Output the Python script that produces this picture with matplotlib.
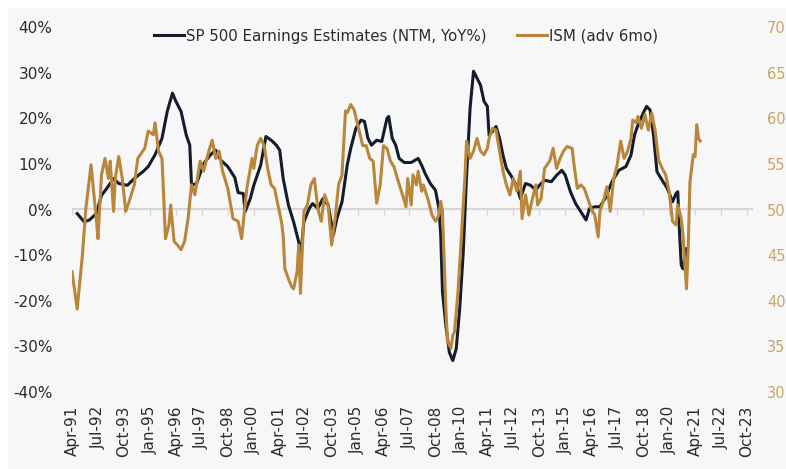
import matplotlib
matplotlib.use("Agg")
import matplotlib.pyplot as plt
import pandas as pd
from matplotlib.patches import Rectangle

# SP 500 NTM earnings estimates, YoY %
sp_dates = [
    "1991-07", "1991-11", "1992-02", "1992-06", "1992-09", "1992-12", "1993-04", "1993-07",
    "1993-12", "1994-04", "1994-09", "1994-12", "1995-04", "1995-08", "1995-11", "1996-02",
    "1996-04", "1996-07", "1996-10", "1996-12", "1997-01", "1997-04", "1997-08", "1997-12",
    "1998-03", "1998-06", "1998-10", "1999-02", "1999-04", "1999-07", "1999-08", "1999-11",
    "2000-01", "2000-05", "2000-08", "2000-11", "2001-02", "2001-04", "2001-06", "2001-09",
    "2001-12", "2002-03", "2002-04", "2002-06", "2002-09", "2002-11", "2003-02", "2003-05",
    "2003-08", "2003-11", "2004-01", "2004-04", "2004-07", "2004-09", "2004-12", "2005-03",
    "2005-05", "2005-07", "2005-09", "2005-12", "2006-03", "2006-06", "2006-07", "2006-09",
    "2006-11", "2007-01", "2007-04", "2007-08", "2007-12", "2008-02", "2008-04", "2008-07",
    "2008-10", "2008-12", "2009-01", "2009-02", "2009-04", "2009-06", "2009-08", "2009-10",
    "2009-12", "2010-02", "2010-04", "2010-06", "2010-08", "2010-10", "2010-12", "2011-02",
    "2011-04", "2011-05", "2011-07", "2011-09", "2011-11", "2012-01", "2012-03", "2012-06",
    "2012-09", "2012-11", "2013-02", "2013-05", "2013-08", "2013-10", "2014-01", "2014-05",
    "2014-08", "2014-11", "2015-01", "2015-04", "2015-07", "2015-10", "2016-01", "2016-03",
    "2016-06", "2016-09", "2016-12", "2017-04", "2017-08", "2017-12", "2018-03", "2018-05",
    "2018-07", "2018-10", "2018-12", "2019-02", "2019-04", "2019-06", "2019-09", "2019-12",
    "2020-03", "2020-05", "2020-06", "2020-07", "2020-08", "2020-09", "2020-11",
]
sp_vals = [
    -0.9, -2.7, -2.3, -0.9, 3.1, 4.6, 6.8, 5.7,
    5.3, 6.8, 8.3, 9.4, 12.0, 15.6, 21.5, 25.5,
    23.7, 21.5, 16.3, 14.1, 5.3, 5.7, 10.0, 12.0,
    13.0, 10.8, 9.4, 7.0, 3.7, 3.5, -0.5, 2.4,
    5.3, 9.7, 16.0, 15.2, 14.1, 13.0, 6.8, 1.0,
    -2.7, -7.1, -10.8, -2.7, 0.2, 1.3, 0.2, 2.4,
    1.0, -5.6, -2.0, 1.7, 9.7, 13.4, 17.8, 19.6,
    19.3, 15.6, 14.1, 15.2, 14.9, 20.0, 20.4, 15.6,
    14.1, 11.2, 10.3, 10.3, 11.2, 9.7, 7.9, 5.7,
    4.2, 0.2, -5.6, -18.1, -25.4, -31.3, -33.1, -30.5,
    -21.7, -9.3, 7.5, 22.2, 30.3, 28.8, 27.3, 23.7,
    22.6, 16.3, 17.1, 18.2, 15.6, 11.9, 9.0, 7.2,
    5.0, 2.4, 5.7, 5.3, 4.2, 5.3, 6.4, 6.1,
    7.5, 8.6, 7.5, 3.9, 1.3, -0.5, -2.3, 0.2,
    0.6, 0.6, 2.4, 6.1, 8.6, 9.4, 11.9, 16.3,
    18.5, 21.1, 22.6, 21.8, 16.3, 8.3, 6.4, 4.6,
    1.7, 3.5, 3.9, -4.9, -12.2, -13.0, -8.6,
]

# ISM manufacturing, advanced 6 months
ism_dates = [
    "1991-04", "1991-07", "1991-10", "1991-12", "1992-03", "1992-06", "1992-07", "1992-09",
    "1992-11", "1993-01", "1993-02", "1993-04", "1993-05", "1993-07", "1993-09", "1993-11",
    "1994-01", "1994-04", "1994-06", "1994-10", "1994-12", "1995-03", "1995-04", "1995-06",
    "1995-08", "1995-10", "1995-12", "1996-01", "1996-03", "1996-05", "1996-07", "1996-09",
    "1996-11", "1997-01", "1997-03", "1997-06", "1997-08", "1997-11", "1998-01", "1998-03",
    "1998-05", "1998-07", "1998-10", "1999-01", "1999-04", "1999-06", "1999-09", "1999-10",
    "1999-12", "2000-01", "2000-03", "2000-05", "2000-07", "2000-09", "2000-11", "2001-01",
    "2001-03", "2001-05", "2001-06", "2001-07", "2001-09", "2001-11", "2001-12", "2002-02",
    "2002-03", "2002-04", "2002-06", "2002-08", "2002-10", "2002-12", "2003-02", "2003-04",
    "2003-06", "2003-08", "2003-10", "2003-12", "2004-02", "2004-04", "2004-06", "2004-07",
    "2004-09", "2004-11", "2005-01", "2005-04", "2005-06", "2005-08", "2005-10", "2005-12",
    "2006-02", "2006-04", "2006-06", "2006-08", "2006-10", "2006-12", "2007-03", "2007-05",
    "2007-06", "2007-08", "2007-09", "2007-11", "2007-12", "2008-02", "2008-03", "2008-06",
    "2008-08", "2008-10", "2008-12", "2009-01", "2009-02", "2009-03", "2009-04", "2009-05",
    "2009-07", "2009-08", "2009-09", "2009-11", "2010-01", "2010-03", "2010-04", "2010-06",
    "2010-08", "2010-10", "2010-12", "2011-02", "2011-04", "2011-05", "2011-07", "2011-09",
    "2011-11", "2012-01", "2012-03", "2012-05", "2012-07", "2012-09", "2012-11", "2012-12",
    "2013-02", "2013-04", "2013-06", "2013-08", "2013-09", "2013-11", "2014-01", "2014-04",
    "2014-06", "2014-08", "2014-10", "2014-12", "2015-02", "2015-05", "2015-06", "2015-08",
    "2015-10", "2015-12", "2016-02", "2016-04", "2016-06", "2016-08", "2016-09", "2016-11",
    "2017-01", "2017-03", "2017-05", "2017-07", "2017-09", "2017-11", "2018-01", "2018-03",
    "2018-04", "2018-06", "2018-07", "2018-09", "2018-11", "2019-01", "2019-03", "2019-05",
    "2019-07", "2019-09", "2019-11", "2020-01", "2020-03", "2020-05", "2020-06", "2020-08",
    "2020-09", "2020-11", "2020-12", "2021-01", "2021-03", "2021-04", "2021-05", "2021-06",
    "2021-07",
]
ism_vals = [
    43.2, 39.1, 45.0, 50.1, 54.9, 49.0, 46.8, 53.8,
    55.6, 53.4, 55.3, 49.8, 53.4, 55.8, 53.4, 49.8,
    50.9, 52.7, 55.6, 56.7, 58.6, 58.2, 59.5, 56.4,
    55.6, 46.8, 48.3, 50.5, 46.5, 46.1, 45.6, 46.5,
    49.0, 52.7, 51.6, 55.3, 54.2, 56.4, 57.6, 55.6,
    56.4, 54.2, 52.3, 49.0, 48.7, 46.8, 52.3, 53.4,
    55.6, 54.5, 57.0, 57.8, 57.0, 54.5, 52.7, 52.3,
    50.5, 48.7, 47.2, 43.5, 42.4, 41.5, 41.3, 43.2,
    46.1, 40.8, 49.8, 50.5, 52.7, 53.4, 50.1, 48.7,
    51.6, 50.5, 46.1, 49.0, 52.7, 53.8, 60.8, 60.6,
    61.5, 60.9, 59.3, 57.0, 57.0, 55.6, 55.3, 50.7,
    52.7, 57.0, 56.7, 55.3, 54.7, 53.4, 51.6, 50.3,
    53.4, 50.5, 53.8, 52.7, 54.2, 52.0, 52.7, 50.9,
    49.4, 48.7, 49.4, 50.9, 49.8, 44.6, 39.1, 35.5,
    34.8, 36.2, 36.6, 41.0, 47.2, 53.4, 57.5, 55.6,
    56.4, 57.8, 56.4, 56.0, 56.7, 57.8, 58.9, 58.7,
    56.4, 54.2, 52.7, 51.6, 53.4, 52.0, 54.2, 49.0,
    51.6, 49.4, 51.2, 52.7, 50.5, 51.2, 54.5, 55.3,
    56.7, 54.5, 55.6, 56.4, 56.9, 56.7, 55.0, 52.3,
    52.7, 52.3, 51.2, 50.1, 49.4, 47.0, 49.8, 50.9,
    52.5, 49.8, 53.4, 54.9, 57.5, 55.6, 56.4, 57.8,
    59.8, 59.5, 60.2, 58.9, 60.4, 58.7, 60.6, 58.6,
    55.4, 54.5, 53.8, 52.0, 48.7, 48.3, 50.5, 49.0,
    47.2, 41.3, 45.7, 53.0, 56.0, 55.8, 59.3, 57.8,
    57.5,
]

tick_dates = pd.date_range("1991-04-01", "2023-10-01", freq="15MS")
pct_ticks = [-40, -30, -20, -10, 0, 10, 20, 30, 40]
ism_ticks = [30, 35, 40, 45, 50, 55, 60, 65, 70]

navy = "#151d2c"
gold = "#b8873c"

plt.rcParams["font.family"] = "DejaVu Sans"

fig = plt.figure(figsize=(7.86, 4.69), dpi=100)
fig.patch.set_facecolor("white")
# light grey panel behind the chart
bg = Rectangle((8 / 786, 0), 1, 1 - 8 / 469, transform=fig.transFigure,
               facecolor="#f7f7f7", edgecolor="none", zorder=-10)
fig.add_artist(bg)

ax = fig.add_axes([72 / 786, 77 / 469, 681 / 786, 365 / 469])
ax.set_facecolor("none")
ax2 = ax.twinx()

x_sp = pd.to_datetime(sp_dates)
x_ism = pd.to_datetime(ism_dates)

ax.axhline(0, color="#d6d6d6", lw=1.5, zorder=0)
ax.vlines(tick_dates, -1.3, 0, color="#d6d6d6", lw=1, zorder=0)

l1, = ax.plot(x_sp, sp_vals, color=navy, lw=2.2, label="SP 500 Earnings Estimates (NTM, YoY%)")
l2, = ax2.plot(x_ism, ism_vals, color=gold, lw=2.2, label="ISM (adv 6mo)")

ax.set_xlim(pd.Timestamp("1991-04-01"), pd.Timestamp("2024-01-15"))
ax.set_ylim(-40, 40)
ax2.set_ylim(30, 70)

ax.set_yticks(pct_ticks)
ax.set_yticklabels([f"{v}%" for v in pct_ticks])
ax2.set_yticks(ism_ticks)
ax2.set_yticklabels([str(v) for v in ism_ticks])
ax.set_xticks(tick_dates)
ax.set_xticklabels([d.strftime("%b-%y") for d in tick_dates], rotation=90)

ax.tick_params(axis="y", length=0, pad=14, labelsize=11, labelcolor="#2b2b2b")
ax.tick_params(axis="x", length=0, pad=10, labelsize=11, labelcolor="#2b2b2b")
ax2.tick_params(axis="y", length=0, pad=10, labelsize=10.5, labelcolor="#c9a46a")

for a in (ax, ax2):
    for s in a.spines.values():
        s.set_visible(False)

fig.legend([l1, l2], [l1.get_label(), l2.get_label()], loc="center",
           bbox_to_anchor=(0.517, 1 - 36 / 469), ncol=2, frameon=False,
           fontsize=10.8, handlelength=2.0, handletextpad=0.15, columnspacing=2.0,
           labelcolor="#2b2b2b")

fig.savefig("out.png", dpi=100)
